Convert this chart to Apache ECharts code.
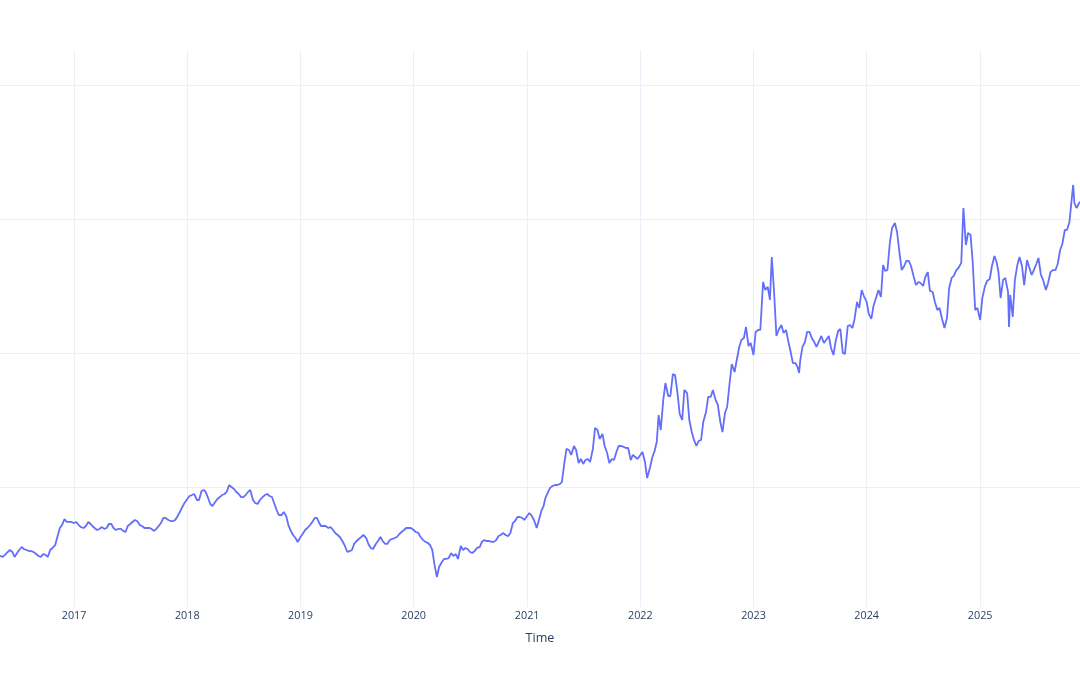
<!DOCTYPE html>
<html>
<head>
<meta charset="utf-8">
<script src="https://cdn.jsdelivr.net/npm/echarts@6/dist/echarts.min.js"></script>
<style>
html,body{margin:0;padding:0;background:#fff;}
#chart{width:1080px;height:675px;}
</style>
</head>
<body>
<div id="chart"></div>
<script>
// Dates and values, one pair of arrays per year
const dates2016 = ['2016-05-01','2016-05-08','2016-05-16','2016-05-23','2016-06-01','2016-06-08','2016-06-16','2016-06-23','2016-07-01','2016-07-08','2016-07-16','2016-07-23','2016-08-01','2016-08-08','2016-08-16','2016-08-23','2016-09-01','2016-09-08','2016-09-16','2016-09-23','2016-10-01','2016-10-08','2016-10-16','2016-10-23','2016-11-01','2016-11-08','2016-11-16','2016-11-23','2016-12-01','2016-12-08','2016-12-16','2016-12-23'];
const values2016 = [48.5,48.5,47.8,49.3, 51.5,53.0,51.5,47.8, 50.7,53.0,55.2,53.7, 53.0,52.2,52.2,51.5, 50.0,48.5,47.8,50.0, 49.3,47.8,53.0,54.5, 56.7,62.7,69.4,71.6, 76.1,73.9,73.9,73.9];

const dates2017 = ['2017-01-01','2017-01-08','2017-01-16','2017-01-23','2017-02-01','2017-02-08','2017-02-16','2017-02-23','2017-03-01','2017-03-08','2017-03-16','2017-03-23','2017-04-01','2017-04-08','2017-04-16','2017-04-23','2017-05-01','2017-05-08','2017-05-16','2017-05-23','2017-06-01','2017-06-08','2017-06-16','2017-06-23','2017-07-01','2017-07-08','2017-07-16','2017-07-23','2017-08-01','2017-08-08','2017-08-16','2017-08-23','2017-09-01','2017-09-08','2017-09-16','2017-09-23','2017-10-01','2017-10-08','2017-10-16','2017-10-23','2017-11-01','2017-11-08','2017-11-16','2017-11-23','2017-12-01','2017-12-08','2017-12-16','2017-12-23'];
const values2017 = [73.1,73.9,71.6,70.1, 69.4,70.9,73.9,72.4, 70.9,69.4,67.9,68.7, 70.1,68.7,69.4,72.4, 72.4,69.4,67.9,68.7, 68.7,67.2,66.4,70.9, 72.4,73.9,75.4,74.6, 71.6,70.9,69.4,69.4, 69.4,68.7,67.2,68.7, 70.9,73.1,76.9,76.9, 75.4,74.6,74.6,75.4, 78.4,81.3,85.1,88.1];

const dates2018 = ['2018-01-01','2018-01-08','2018-01-16','2018-01-23','2018-02-01','2018-02-08','2018-02-16','2018-02-23','2018-03-01','2018-03-08','2018-03-16','2018-03-23','2018-04-01','2018-04-08','2018-04-16','2018-04-23','2018-05-01','2018-05-08','2018-05-16','2018-05-23','2018-06-01','2018-06-08','2018-06-16','2018-06-23','2018-07-01','2018-07-08','2018-07-16','2018-07-23','2018-08-01','2018-08-08','2018-08-16','2018-08-23','2018-09-01','2018-09-08','2018-09-16','2018-09-23','2018-10-01','2018-10-08','2018-10-16','2018-10-23','2018-11-01','2018-11-08','2018-11-16','2018-11-23','2018-12-01','2018-12-08','2018-12-16','2018-12-23'];
const values2018 = [91.0,93.3,94.0,94.8, 90.3,90.3,97.0,97.8, 96.3,92.5,87.3,85.8, 88.8,91.0,92.5,94.0, 94.8,96.3,101.5,100.0, 98.5,96.3,94.8,92.5, 92.5,94.0,96.3,97.8, 90.3,88.1,87.3,90.3, 92.5,94.0,94.8,93.3, 92.5,88.1,82.8,79.1, 79.1,81.3,78.4,71.6, 67.2,64.2,61.9,59.0];

const dates2019 = ['2019-01-01','2019-01-08','2019-01-16','2019-01-23','2019-02-01','2019-02-08','2019-02-16','2019-02-23','2019-03-01','2019-03-08','2019-03-16','2019-03-23','2019-04-01','2019-04-08','2019-04-16','2019-04-23','2019-05-01','2019-05-08','2019-05-16','2019-05-23','2019-06-01','2019-06-08','2019-06-16','2019-06-23','2019-07-01','2019-07-08','2019-07-16','2019-07-23','2019-08-01','2019-08-08','2019-08-16','2019-08-23','2019-09-01','2019-09-08','2019-09-16','2019-09-23','2019-10-01','2019-10-08','2019-10-16','2019-10-23','2019-11-01','2019-11-08','2019-11-16','2019-11-23','2019-12-01','2019-12-08','2019-12-16','2019-12-23'];
const values2019 = [62.7,64.9,67.9,69.4, 71.6,73.9,76.9,76.9, 73.9,70.9,70.9,70.9, 69.4,70.1,67.9,65.7, 64.2,62.7,59.7,56.7, 51.5,52.2,53.0,57.5, 59.7,61.2,62.7,64.2, 61.9,57.5,54.5,53.7, 57.5,59.7,62.7,59.7, 57.5,57.5,60.4,61.2, 61.9,62.7,64.9,66.4, 67.9,69.4,69.4,69.4];

const dates2020 = ['2020-01-01','2020-01-08','2020-01-16','2020-01-23','2020-02-01','2020-02-08','2020-02-16','2020-02-23','2020-03-01','2020-03-08','2020-03-16','2020-03-23','2020-04-01','2020-04-08','2020-04-16','2020-04-23','2020-05-01','2020-05-08','2020-05-16','2020-05-23','2020-06-01','2020-06-08','2020-06-16','2020-06-23','2020-07-01','2020-07-08','2020-07-16','2020-07-23','2020-08-01','2020-08-08','2020-08-16','2020-08-23','2020-09-01','2020-09-08','2020-09-16','2020-09-23','2020-10-01','2020-10-08','2020-10-16','2020-10-23','2020-11-01','2020-11-08','2020-11-16','2020-11-23','2020-12-01','2020-12-08','2020-12-16','2020-12-23'];
const values2020 = [67.9,66.4,65.7,62.7, 60.4,59.0,58.2,56.7, 53.0,42.5,32.8,40.3, 44.0,46.3,46.3,47.0, 50.7,48.5,50.0,46.3, 56.0,53.0,54.5,53.7, 51.5,50.7,52.2,54.5, 55.2,59.0,60.4,59.7, 59.7,59.0,59.0,60.4, 63.4,64.2,65.7,64.2, 63.4,65.7,73.1,74.6, 77.6,77.6,76.9,75.4];

const dates2021 = ['2021-01-01','2021-01-08','2021-01-16','2021-01-23','2021-02-01','2021-02-08','2021-02-16','2021-02-23','2021-03-01','2021-03-08','2021-03-16','2021-03-23','2021-04-01','2021-04-08','2021-04-16','2021-04-23','2021-05-01','2021-05-08','2021-05-16','2021-05-23','2021-06-01','2021-06-08','2021-06-16','2021-06-23','2021-07-01','2021-07-08','2021-07-16','2021-07-23','2021-08-01','2021-08-08','2021-08-16','2021-08-23','2021-09-01','2021-09-08','2021-09-16','2021-09-23','2021-10-01','2021-10-08','2021-10-16','2021-10-23','2021-11-01','2021-11-08','2021-11-16','2021-11-23','2021-12-01','2021-12-08','2021-12-16','2021-12-23'];
const values2021 = [78.4,80.6,78.4,75.4, 69.4,75.4,82.1,85.8, 91.8,95.5,99.3,100.7, 101.5,101.5,102.2,103.7, 117.9,128.4,127.6,123.9, 130.6,127.6,117.9,120.9, 117.2,120.1,120.9,118.7, 128.4,144.0,142.5,135.8, 139.6,130.6,125.4,117.9, 120.9,120.1,126.1,130.6, 130.6,129.9,129.1,129.1, 120.1,123.9,122.4,120.9];

const dates2022 = ['2022-01-01','2022-01-08','2022-01-16','2022-01-23','2022-02-01','2022-02-08','2022-02-16','2022-02-23','2022-03-01','2022-03-08','2022-03-16','2022-03-23','2022-04-01','2022-04-08','2022-04-16','2022-04-23','2022-05-01','2022-05-08','2022-05-16','2022-05-23','2022-06-01','2022-06-08','2022-06-16','2022-06-23','2022-07-01','2022-07-08','2022-07-16','2022-07-23','2022-08-01','2022-08-08','2022-08-16','2022-08-23','2022-09-01','2022-09-08','2022-09-16','2022-09-23','2022-10-01','2022-10-08','2022-10-16','2022-10-23','2022-11-01','2022-11-08','2022-11-16','2022-11-23','2022-12-01','2022-12-08','2022-12-16','2022-12-23'];
const values2022 = [123.9,126.1,118.7,106.7, 114.2,121.6,126.9,133.6, 153.7,142.5,164.9,177.6, 167.9,167.9,184.3,183.6, 170.1,154.5,150.0,172.4, 170.1,150.0,141.0,135.1, 130.6,134.3,135.1,148.5, 156.0,167.2,167.2,172.4, 164.9,161.2,148.5,141.0, 155.2,159.7,177.6,191.8, 185.8,194.8,204.5,209.7, 211.2,219.4,205.2,207.5];

const dates2023 = ['2023-01-01','2023-01-08','2023-01-16','2023-01-23','2023-02-01','2023-02-08','2023-02-16','2023-02-23','2023-03-01','2023-03-08','2023-03-16','2023-03-23','2023-04-01','2023-04-08','2023-04-16','2023-04-23','2023-05-01','2023-05-08','2023-05-16','2023-05-23','2023-05-28','2023-06-01','2023-06-08','2023-06-16','2023-06-23','2023-07-01','2023-07-08','2023-07-16','2023-07-23','2023-08-01','2023-08-08','2023-08-16','2023-08-23','2023-09-01','2023-09-08','2023-09-16','2023-09-23','2023-10-01','2023-10-08','2023-10-16','2023-10-23','2023-11-01','2023-11-08','2023-11-16','2023-11-23','2023-12-01','2023-12-08','2023-12-16','2023-12-23'];
const values2023 = [198.5,215.7,217.2,217.2, 253.0,247.0,249.3,239.6, 271.6,247.0,212.7,217.2, 220.9,214.9,217.2,209.0, 200.7,192.5,192.5,189.6,185.1, 194.8,204.5,208.2,215.7, 215.7,211.2,208.2,204.5, 209.0,212.7,207.5,209.7, 212.7,203.7,198.5,209.0, 216.4,217.9,200.0,199.3, 220.1,220.9,218.7,225.4, 238.1,233.6,247.0,242.5];

const dates2024 = ['2024-01-01','2024-01-08','2024-01-16','2024-01-23','2024-02-01','2024-02-08','2024-02-16','2024-02-23','2024-03-01','2024-03-08','2024-03-16','2024-03-23','2024-04-01','2024-04-08','2024-04-16','2024-04-23','2024-05-01','2024-05-08','2024-05-16','2024-05-23','2024-06-01','2024-06-08','2024-06-16','2024-06-23','2024-07-01','2024-07-08','2024-07-16','2024-07-23','2024-08-01','2024-08-08','2024-08-16','2024-08-23','2024-09-01','2024-09-08','2024-09-16','2024-09-23','2024-10-01','2024-10-08','2024-10-16','2024-10-23','2024-11-01','2024-11-08','2024-11-16','2024-11-23','2024-12-01','2024-12-08','2024-12-16','2024-12-23'];
const values2024 = [238.1,229.1,225.4,235.1, 241.8,247.0,241.8,265.7, 261.2,261.9,282.8,293.3, 297.0,290.3,274.6,261.9, 264.9,268.7,268.7,264.9, 256.7,250.7,253.0,252.2, 250.0,256.7,260.4,246.3, 245.5,238.1,232.1,233.6, 224.6,218.7,226.1,248.5, 256.0,257.5,261.9,263.4, 267.2,308.2,280.6,289.6, 288.1,267.9,232.1,233.6];

const dates2025 = ['2025-01-01','2025-01-08','2025-01-16','2025-01-23','2025-02-01','2025-02-08','2025-02-16','2025-02-23','2025-03-01','2025-03-08','2025-03-16','2025-03-23','2025-04-01','2025-04-04','2025-04-08','2025-04-16','2025-04-23','2025-05-01','2025-05-08','2025-05-16','2025-05-23','2025-06-01','2025-06-08','2025-06-16','2025-06-23','2025-07-01','2025-07-08','2025-07-16','2025-07-23','2025-08-01','2025-08-08','2025-08-16','2025-08-23','2025-09-01','2025-09-08','2025-09-16','2025-09-23','2025-10-01','2025-10-08','2025-10-16','2025-10-23','2025-10-28','2025-11-01','2025-11-08','2025-11-16','2025-11-20'];
const values2025 = [224.6,241.0,249.3,253.7, 255.2,264.9,272.4,267.9, 260.4,241.0,254.5,256.0, 245.5,219.4,243.3,226.9,254.5, 265.7,271.6,264.9,250.7, 269.4,264.2,258.2,261.9, 266.4,270.9,258.2,254.5, 247.0,252.2,260.4,261.9, 261.9,266.4,276.9,281.3, 291.8,291.8,297.8,314.2,325.4, 311.9,308.2,311.9,312.7];

const xRange = ['2016-05-07', '2025-11-19'];
const yRange = [10.45, 426.1];
const xTitle = 'Time';

const dates = [].concat(dates2016, dates2017, dates2018, dates2019, dates2020, dates2021, dates2022, dates2023, dates2024, dates2025);
const values = [].concat(values2016, values2017, values2018, values2019, values2020, values2021, values2022, values2023, values2024, values2025);

const chart = echarts.init(document.getElementById('chart'), null, {renderer: 'canvas'});
const gridColor = '#ebf0f8';
const fontFam = '"Open Sans", verdana, arial, sans-serif';
chart.setOption({
  backgroundColor: '#ffffff',
  animation: false,
  grid: {left: 0, right: 0, top: 50, bottom: 68, containLabel: false, outerBoundsMode: 'none'},
  xAxis: {
    type: 'time',
    min: xRange[0],
    max: xRange[1],
    splitNumber: 10,
    minInterval: 360 * 86400000,
    name: xTitle,
    nameLocation: 'middle',
    nameGap: 25,
    nameTextStyle: {color: '#2a3f5f', fontSize: 12.6, fontFamily: fontFam},
    axisLine: {show: false},
    axisTick: {show: false},
    axisLabel: {
      color: '#2a3f5f', fontSize: 10.8, fontFamily: fontFam, margin: 3,
      formatter: '{yyyy}', showMinLabel: false, showMaxLabel: false
    },
    splitLine: {show: true, showMinLine: false, showMaxLine: false, lineStyle: {color: gridColor, width: 1}}
  },
  yAxis: {
    type: 'value',
    min: yRange[0],
    max: yRange[1],
    splitNumber: 4,
    axisLine: {show: false},
    axisTick: {show: false},
    axisLabel: {show: false},
    splitLine: {show: true, showMinLine: false, showMaxLine: false, lineStyle: {color: gridColor, width: 1}}
  },
  series: [{
    type: 'line',
    data: dates.map((d, i) => [d, values[i]]),
    showSymbol: false,
    symbol: 'none',
    clip: true,
    lineStyle: {color: '#636efa', width: 1.8},
    itemStyle: {color: '#636efa'}
  }]
});
</script>
</body>
</html>
